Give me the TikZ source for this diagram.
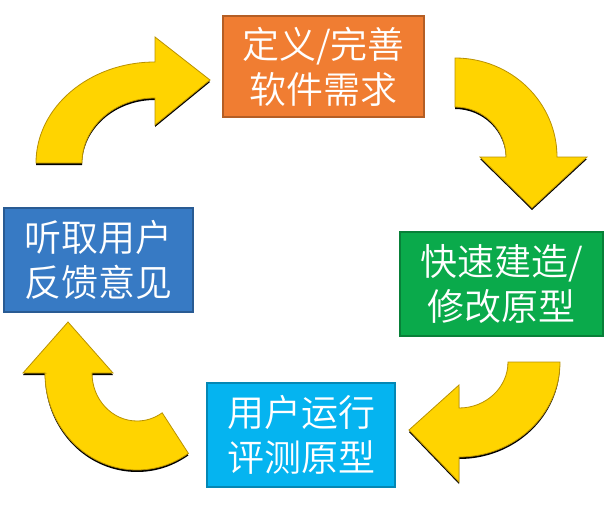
\documentclass[tikz,border=0pt]{standalone}
\usepackage{fontspec}
\usepackage{xcolor}
\usepackage{tikz}
\newfontfamily\cjk{Noto Sans CJK SC}[UprightFont=* DemiLight]

\definecolor{reqorange}{RGB}{240,125,50}
\definecolor{buildgreen}{RGB}{10,170,75}
\definecolor{testcyan}{RGB}{5,180,240}
\definecolor{talkblue}{RGB}{55,122,196}
\definecolor{arrowyellow}{RGB}{255,212,0}
\definecolor{arrowedge}{RGB}{185,145,0}

\tikzset{
  stagebox/.style={draw=#1!75!black, fill=#1, line width=1.4pt, text=white,
    align=center, inner sep=0pt, font=\cjk\fontsize{37}{45}\selectfont},
  bentarrow/.style={fill=arrowyellow, draw=arrowedge, line width=0.8pt,
    preaction={fill=black, transform canvas={yshift=-2pt}}}
}

\begin{document}
\begin{tikzpicture}[x=1pt, y=-1pt]
    \useasboundingbox (0,0) rectangle (608,509);

    % --- The four stages of the cycle ---
    \node[stagebox=reqorange, minimum width=201pt, minimum height=101pt] (req) at (323.5,66.5) {定义/完善\\软件需求};
    \node[stagebox=buildgreen, minimum width=203pt, minimum height=104pt] (build) at (501.5,284) {快速建造/\\修改原型};
    \node[stagebox=testcyan, minimum width=188pt, minimum height=104pt] (test) at (301,435) {用户运行\\评测原型};
    \node[stagebox=talkblue, minimum width=189pt, minimum height=104pt] (talk) at (98.5,260) {听取用户\\反馈意见};

    % --- Curved block arrows between the stages ---
    % top left: from feedback up to requirements
    \draw[bentarrow] (36,163) arc[start angle=180, end angle=270, x radius=119, y radius=101]
        -- (155,37) -- (210,80) -- (155,125) -- (155,98)
        arc[start angle=270, end angle=180, x radius=73, y radius=65] -- cycle;

    % top right: from requirements down to building
    \draw[bentarrow] (455,58) arc[start angle=270, end angle=360, x radius=102, y radius=99]
        -- (587,157) -- (532,208) -- (480,157) -- (506,157)
        arc[start angle=0, end angle=-90, x radius=51, y radius=50] -- cycle;

    % bottom right: from building to user testing
    \draw[bentarrow] (560,362) arc[start angle=0, end angle=90, x radius=101, y radius=95]
        -- (459,482) -- (409,430) -- (459,385) -- (459,408)
        arc[start angle=90, end angle=0, x radius=49, y radius=46] -- cycle;

    % bottom left: from user testing up to feedback
    \draw[bentarrow] (45,373) -- (23,373) -- (68,322) -- (113,373) -- (92,373)
        arc[start angle=180, end angle=56, x radius=45, y radius=48]
        -- (188.4,453.4)
        arc[start angle=56, end angle=180, x radius=92, y radius=97] -- cycle;

\end{tikzpicture}
\end{document}
